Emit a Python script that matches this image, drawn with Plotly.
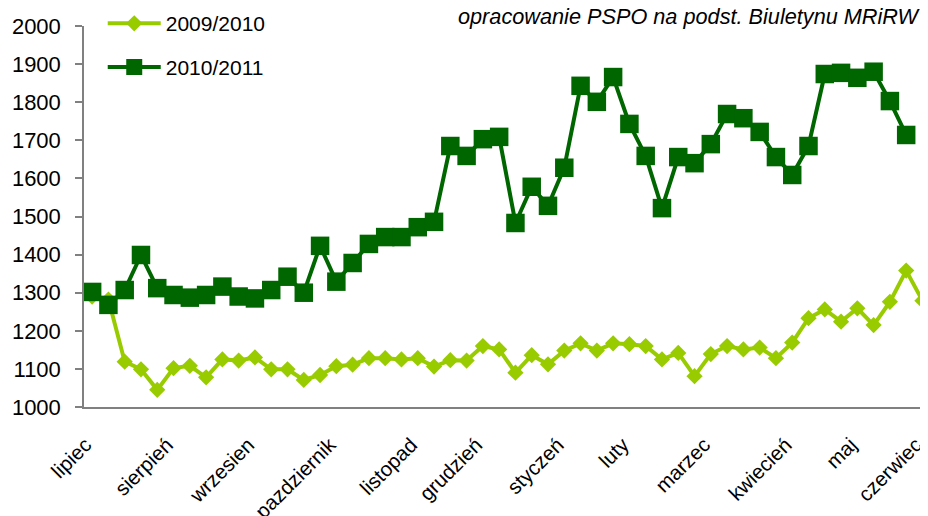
import plotly.graph_objects as go

# ---- data ----
weeks = list(range(52))
month_ticks = [0, 5, 10, 15, 20, 24, 29, 33, 38, 43, 47, 51]
month_labels = ["lipiec", "sierpień", "wrzesien", "pazdziernik", "listopad", "grudzień",
                "styczeń", "luty", "marzec", "kwiecień", "maj", "czerwiec"]

s_2009_2010 = [1290, 1282, 1119, 1099, 1045, 1102, 1108, 1078, 1125, 1122,
               1130, 1099, 1099, 1071, 1084, 1107, 1111, 1128, 1128, 1125,
               1128, 1106, 1123, 1122, 1160, 1151, 1090, 1136, 1112, 1148,
               1167, 1148, 1167, 1165, 1160, 1125, 1142, 1081, 1139, 1160,
               1151, 1156, 1128, 1169, 1233, 1256, 1224, 1259, 1215, 1276,
               1358, 1279]

s_2010_2011 = [1302, 1268, 1307, 1399, 1312, 1294, 1287, 1294, 1316, 1290,
               1285, 1307, 1342, 1300, 1423, 1329, 1378, 1428, 1446, 1446,
               1472, 1486, 1685, 1659, 1703, 1709, 1483, 1578, 1528, 1628,
               1843, 1801, 1866, 1743, 1659, 1522, 1656, 1640, 1690, 1769,
               1758, 1722, 1656, 1609, 1685, 1874, 1877, 1864, 1880, 1803,
               1714]

y_ticks = list(range(1000, 2001, 100))

FONT = "Liberation Sans, Arial, sans-serif"
LIGHT = "#99CC00"
DARK = "#006600"
LABEL_SHIFT = -0.4  # Excel draws rotated labels slightly left of the category centre

fig = go.Figure()
fig.add_trace(go.Scatter(
    x=weeks[:len(s_2009_2010)], y=s_2009_2010, name="2009/2010", mode="lines+markers",
    line=dict(color=LIGHT, width=4),
    marker=dict(symbol="diamond", size=12.5, color=LIGHT),
    legend="legend",
))
fig.add_trace(go.Scatter(
    x=weeks[:len(s_2010_2011)], y=s_2010_2011, name="2010/2011", mode="lines+markers",
    line=dict(color=DARK, width=4),
    marker=dict(symbol="square", size=18.5, color=DARK),
    legend="legend2",
))

fig.update_layout(
    width=920, height=508,
    margin=dict(l=76, r=0, t=18, b=109, autoexpand=False),
    plot_bgcolor="white", paper_bgcolor="white",
    font=dict(family=FONT, size=22, color="black"),
    showlegend=True,
    legend=dict(x=0.0222, y=1.06, xanchor="left", yanchor="top",
                bgcolor="rgba(0,0,0,0)", font=dict(size=21), itemwidth=53),
    legend2=dict(x=0.0222, y=0.945, xanchor="left", yanchor="top",
                 bgcolor="rgba(0,0,0,0)", font=dict(size=21), itemwidth=53),
    xaxis=dict(
        range=[-0.5, 51.34], tickmode="array",
        tickvals=[t + LABEL_SHIFT for t in month_ticks], ticktext=month_labels,
        tickangle=-45, showgrid=False, zeroline=False, showline=True,
        linecolor="#808080", linewidth=1.5, ticks="", ticklabelstandoff=16,
        tickfont=dict(size=20.5), automargin=False,
    ),
    yaxis=dict(
        range=[1000, 2000], tickmode="array", tickvals=y_ticks,
        showgrid=False, zeroline=False, showline=True,
        linecolor="#808080", linewidth=1.5, ticks="outside", ticklen=7,
        tickcolor="#808080", tickwidth=1.5, ticklabelstandoff=10,
        tickfont=dict(size=22), automargin=False,
    ),
    annotations=[dict(
        text="<i>opracowanie PSPO na podst. Biuletynu MRiRW</i>",
        xref="paper", yref="paper", x=0.994, y=1.024, xanchor="right", yanchor="middle",
        showarrow=False, font=dict(size=21.7, family=FONT, color="black"),
    )],
)

fig.write_html("out.html")
